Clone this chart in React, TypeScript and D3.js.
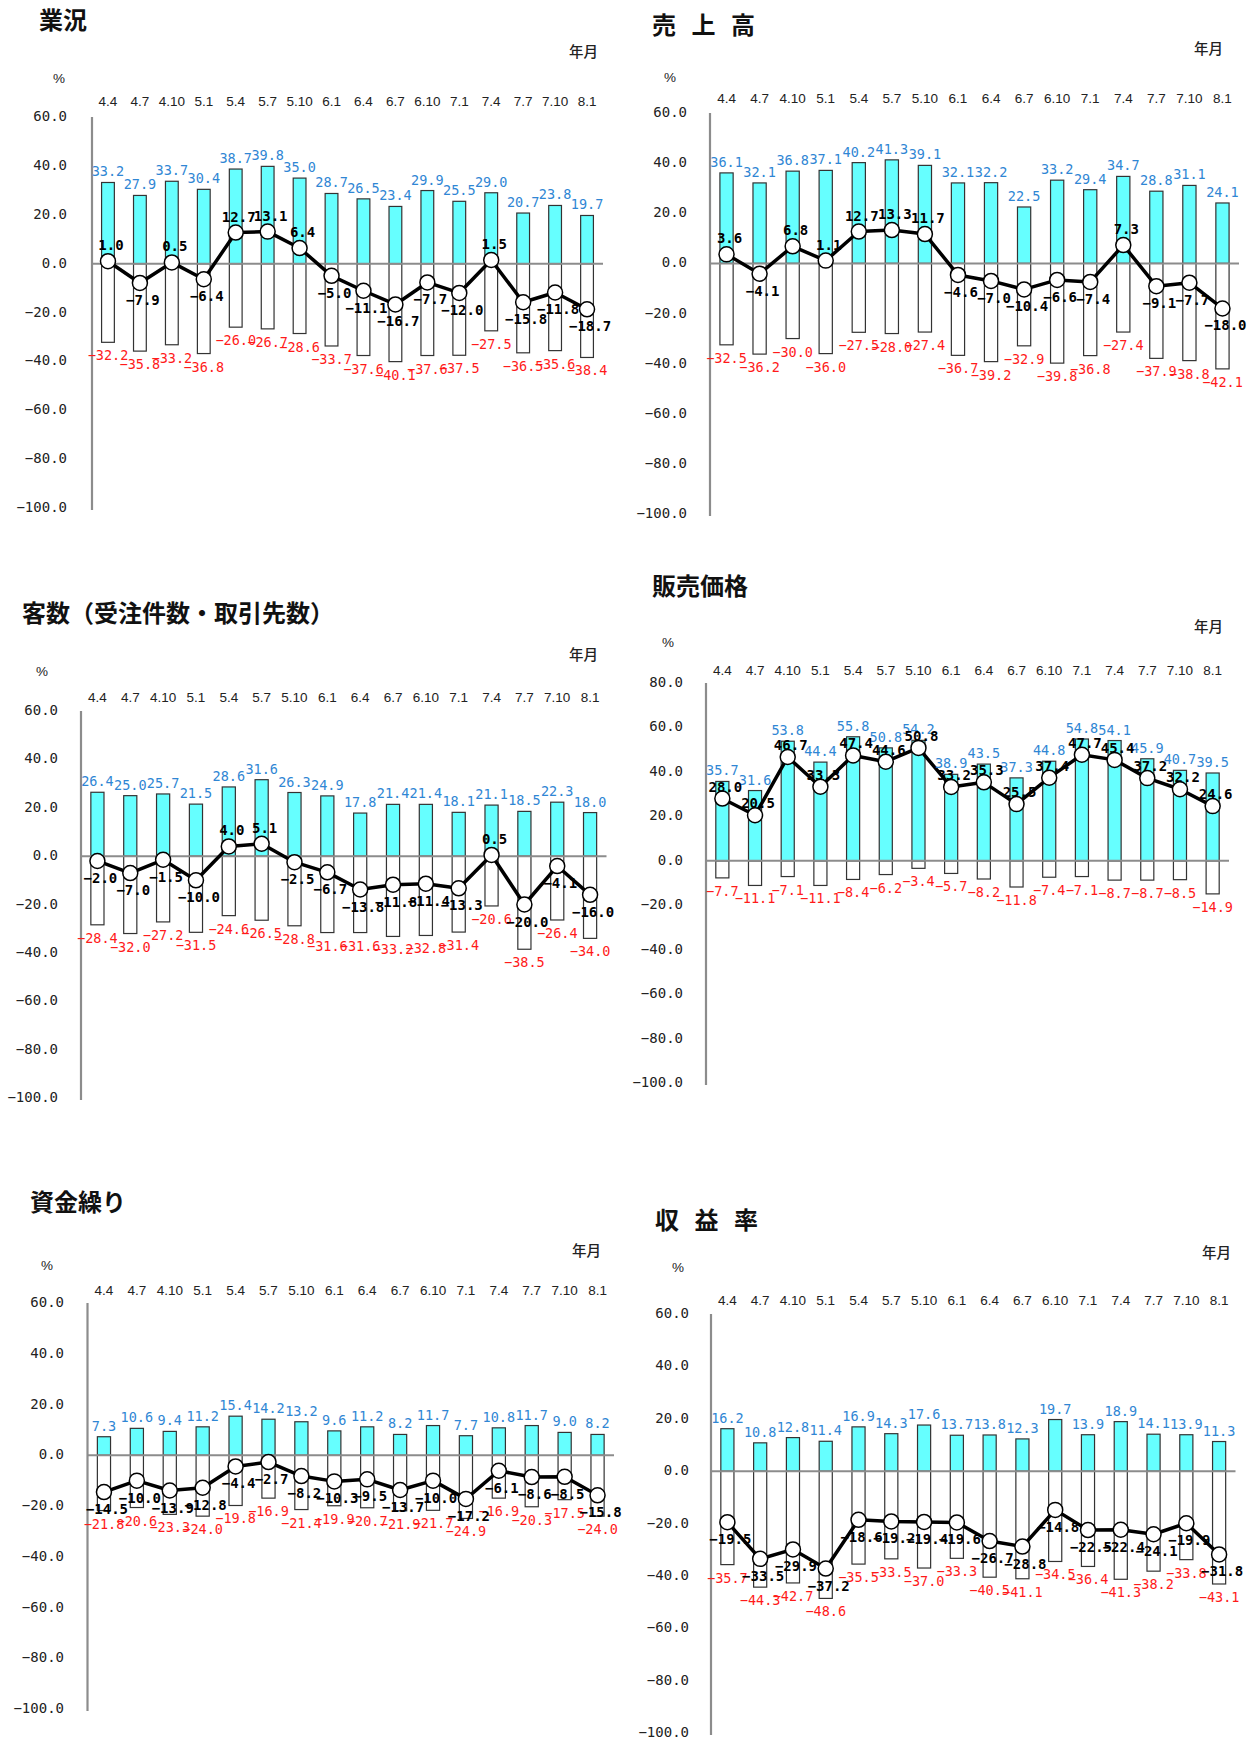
import React from 'react';
import * as d3 from 'd3';

const categories = ['4.4', '4.7', '4.10', '5.1', '5.4', '5.7', '5.10', '6.1', '6.4', '6.7', '6.10', '7.1', '7.4', '7.7', '7.10', '8.1'];

// 業況
const gyokyoUp = [33.2, 27.9, 33.7, 30.4, 38.7, 39.8, 35.0, 28.7, 26.5, 23.4, 29.9, 25.5, 29.0, 20.7, 23.8, 19.7];
const gyokyoDown = [-32.2, -35.8, -33.2, -36.8, -26.0, -26.7, -28.6, -33.7, -37.6, -40.1, -37.6, -37.5, -27.5, -36.5, -35.6, -38.4];
const gyokyoDI = [1.0, -7.9, 0.5, -6.4, 12.7, 13.1, 6.4, -5.0, -11.1, -16.7, -7.7, -12.0, 1.5, -15.8, -11.8, -18.7];

// 売上高
const uriageUp = [36.1, 32.1, 36.8, 37.1, 40.2, 41.3, 39.1, 32.1, 32.2, 22.5, 33.2, 29.4, 34.7, 28.8, 31.1, 24.1];
const uriageDown = [-32.5, -36.2, -30.0, -36.0, -27.5, -28.0, -27.4, -36.7, -39.2, -32.9, -39.8, -36.8, -27.4, -37.9, -38.8, -42.1];
const uriageDI = [3.6, -4.1, 6.8, 1.1, 12.7, 13.3, 11.7, -4.6, -7.0, -10.4, -6.6, -7.4, 7.3, -9.1, -7.7, -18.0];

// 客数
const kyakusuUp = [26.4, 25.0, 25.7, 21.5, 28.6, 31.6, 26.3, 24.9, 17.8, 21.4, 21.4, 18.1, 21.1, 18.5, 22.3, 18.0];
const kyakusuDown = [-28.4, -32.0, -27.2, -31.5, -24.6, -26.5, -28.8, -31.6, -31.6, -33.2, -32.8, -31.4, -20.6, -38.5, -26.4, -34.0];
const kyakusuDI = [-2.0, -7.0, -1.5, -10.0, 4.0, 5.1, -2.5, -6.7, -13.8, -11.8, -11.4, -13.3, 0.5, -20.0, -4.1, -16.0];

// 販売価格
const kakakuUp = [35.7, 31.6, 53.8, 44.4, 55.8, 50.8, 54.2, 38.9, 43.5, 37.3, 44.8, 54.8, 54.1, 45.9, 40.7, 39.5];
const kakakuDown = [-7.7, -11.1, -7.1, -11.1, -8.4, -6.2, -3.4, -5.7, -8.2, -11.8, -7.4, -7.1, -8.7, -8.7, -8.5, -14.9];
const kakakuDI = [28.0, 20.5, 46.7, 33.3, 47.4, 44.6, 50.8, 33.2, 35.3, 25.5, 37.4, 47.7, 45.4, 37.2, 32.2, 24.6];

// 資金繰り
const shikinUp = [7.3, 10.6, 9.4, 11.2, 15.4, 14.2, 13.2, 9.6, 11.2, 8.2, 11.7, 7.7, 10.8, 11.7, 9.0, 8.2];
const shikinDown = [-21.8, -20.6, -23.3, -24.0, -19.8, -16.9, -21.4, -19.9, -20.7, -21.9, -21.7, -24.9, -16.9, -20.3, -17.5, -24.0];
const shikinDI = [-14.5, -10.0, -13.9, -12.8, -4.4, -2.7, -8.2, -10.3, -9.5, -13.7, -10.0, -17.2, -6.1, -8.6, -8.5, -15.8];

// 収益率
const shuekiUp = [16.2, 10.8, 12.8, 11.4, 16.9, 14.3, 17.6, 13.7, 13.8, 12.3, 19.7, 13.9, 18.9, 14.1, 13.9, 11.3];
const shuekiDown = [-35.7, -44.3, -42.7, -48.6, -35.5, -33.5, -37.0, -33.3, -40.5, -41.1, -34.5, -36.4, -41.3, -38.2, -33.8, -43.1];
const shuekiDI = [-19.5, -33.5, -29.9, -37.2, -18.6, -19.2, -19.4, -19.6, -26.7, -28.8, -14.8, -22.5, -22.4, -24.1, -19.9, -31.8];

const MONO = "'DejaVu Sans Mono', 'Liberation Mono', monospace";
const SANS = "'Liberation Sans', Arial, sans-serif";
const CJK = "'Noto Sans CJK JP', 'Noto Sans', sans-serif";

const CYAN = '#66ffff';
const BLUE = '#2f86d4';
const RED = '#ff1a1a';
const GRAY = '#8c8c8c';

type Layout = {
  title: string;
  titleX: number;
  titleY: number;
  titleSpacing: number;
  nenX: number;
  nenY: number;
  pctX: number;
  pctY: number;
  catY: number;
  x0: number;
  x1: number;
  yMin: number;
  yMax: number;
  yTop: number;
  yBot: number;
  tickRight: number;
  diAbove: number;
  diBelow: number;
};

type Series = { up: number[]; down: number[]; di: number[] };

const fmt = d3.format('.1f');

function Panel({ L, S }: { L: Layout; S: Series }) {
  const x = d3.scaleBand<string>().domain(categories).range([L.x0, L.x1]);
  const y = d3.scaleLinear().domain([L.yMin, L.yMax]).range([L.yBot, L.yTop]);
  const ticks = d3.range(L.yMin, L.yMax + 0.001, 20);
  const bw = x.bandwidth() * 0.4;
  const cx = (i: number) => (x(categories[i]) as number) + x.bandwidth() / 2;
  const line = d3
    .line<number>()
    .x((_, i) => cx(i))
    .y((d) => y(d));
  const y0 = y(0);

  return (
    <g>
      <text
        x={L.titleX}
        y={L.titleY}
        fontFamily={CJK}
        fontWeight={700}
        fontSize={24}
        letterSpacing={L.titleSpacing}
        fill="#111"
        style={{ whiteSpace: 'pre' }}
      >
        {L.title}
      </text>
      <text x={L.nenX} y={L.nenY} fontFamily={CJK} fontWeight={500} fontSize={14.5} fill="#222">
        年月
      </text>
      <text x={L.pctX} y={L.pctY} fontFamily={SANS} fontSize={13.5} fill="#222">
        %
      </text>
      {categories.map((c, i) => (
        <text key={'c' + c} x={cx(i)} y={L.catY} textAnchor="middle" fontFamily={SANS} fontSize={13.5} fill="#222">
          {c}
        </text>
      ))}
      {ticks.map((t) => (
        <text
          key={'t' + t}
          x={L.tickRight}
          y={y(t)}
          textAnchor="end"
          dominantBaseline="middle"
          fontFamily={MONO}
          fontSize={14}
          fill="#222"
        >
          {fmt(t)}
        </text>
      ))}
      {/* negative bars */}
      {S.down.map((v, i) => (
        <rect
          key={'d' + i}
          x={cx(i) - bw / 2}
          y={y0}
          width={bw}
          height={y(v) - y0}
          fill="#fff"
          stroke="#333"
          strokeWidth={1.2}
        />
      ))}
      {/* positive bars */}
      {S.up.map((v, i) => (
        <rect
          key={'u' + i}
          x={cx(i) - bw / 2}
          y={y(v)}
          width={bw}
          height={y0 - y(v)}
          fill={CYAN}
          stroke="#333"
          strokeWidth={1.2}
        />
      ))}
      <line x1={L.x0} x2={L.x1} y1={y0} y2={y0} stroke={GRAY} strokeWidth={2} />
      <line x1={L.x0} x2={L.x0} y1={L.yTop} y2={L.yBot + 2} stroke={GRAY} strokeWidth={2.2} />
      <path d={line(S.di) || ''} fill="none" stroke="#000" strokeWidth={3.5} strokeLinejoin="round" />
      {S.di.map((v, i) => (
        <circle key={'p' + i} cx={cx(i)} cy={y(v)} r={7.5} fill="#fff" stroke="#000" strokeWidth={1.5} />
      ))}
      {S.up.map((v, i) => (
        <text key={'lu' + i} x={cx(i)} y={y(v) - 6} textAnchor="middle" fontFamily={MONO} fontSize={13.5} fill={BLUE}>
          {fmt(v)}
        </text>
      ))}
      {S.down.map((v, i) => (
        <text key={'ld' + i} x={cx(i)} y={y(v) + 18} textAnchor="middle" fontFamily={MONO} fontSize={13.5} fill={RED}>
          {fmt(v)}
        </text>
      ))}
      {S.di.map((v, i) => (
        <text
          key={'ldi' + i}
          x={cx(i) + 3}
          y={y(v) + (v >= 0 ? -L.diAbove : L.diBelow)}
          textAnchor="middle"
          fontFamily={MONO}
          fontWeight={700}
          fontSize={14}
          fill="#000"
        >
          {fmt(v)}
        </text>
      ))}
    </g>
  );
}

const layouts: Layout[] = [
  { title: '業況', titleX: 39, titleY: 29, titleSpacing: 0, nenX: 569, nenY: 57, pctX: 53, pctY: 83, catY: 106, x0: 92, x1: 603, yMin: -100, yMax: 60, yTop: 117, yBot: 508, tickRight: 67, diAbove: 11, diBelow: 22 },
  { title: '売 上 高', titleX: 652, titleY: 34, titleSpacing: 5, nenX: 1194, nenY: 54, pctX: 664, pctY: 82, catY: 103, x0: 710, x1: 1239, yMin: -100, yMax: 60, yTop: 113, yBot: 514, tickRight: 687, diAbove: 11, diBelow: 22 },
  { title: '客数（受注件数・取引先数）', titleX: 22, titleY: 622, titleSpacing: 0, nenX: 569, nenY: 660, pctX: 36, pctY: 676, catY: 702, x0: 81, x1: 606.5, yMin: -100, yMax: 60, yTop: 711, yBot: 1098, tickRight: 58, diAbove: 11, diBelow: 22 },
  { title: '販売価格', titleX: 652, titleY: 595, titleSpacing: 0, nenX: 1194, nenY: 632, pctX: 662, pctY: 647, catY: 675, x0: 706, x1: 1229, yMin: -100, yMax: 80, yTop: 683, yBot: 1083, tickRight: 683, diAbove: 7, diBelow: 22 },
  { title: '資金繰り', titleX: 30, titleY: 1211, titleSpacing: 0, nenX: 572, nenY: 1256, pctX: 41, pctY: 1270, catY: 1295, x0: 87.5, x1: 614, yMin: -100, yMax: 60, yTop: 1303, yBot: 1709, tickRight: 64, diAbove: 11, diBelow: 22 },
  { title: '収 益 率', titleX: 655, titleY: 1229, titleSpacing: 5, nenX: 1202, nenY: 1258, pctX: 672, pctY: 1272, catY: 1305, x0: 711, x1: 1235.5, yMin: -100, yMax: 60, yTop: 1314, yBot: 1733, tickRight: 689, diAbove: 11, diBelow: 22 },
];

const seriesList: Series[] = [
  { up: gyokyoUp, down: gyokyoDown, di: gyokyoDI },
  { up: uriageUp, down: uriageDown, di: uriageDI },
  { up: kyakusuUp, down: kyakusuDown, di: kyakusuDI },
  { up: kakakuUp, down: kakakuDown, di: kakakuDI },
  { up: shikinUp, down: shikinDown, di: shikinDI },
  { up: shuekiUp, down: shuekiDown, di: shuekiDI },
];

export default function App() {
  return (
    <svg
      width={1253}
      height={1744}
      viewBox="0 0 1253 1744"
      style={{ position: 'absolute', left: 0, top: 0, background: '#fff' }}
    >
      <rect x={0} y={0} width={1253} height={1744} fill="#fff" />
      {layouts.map((L, k) => (
        <Panel key={k} L={L} S={seriesList[k]} />
      ))}
    </svg>
  );
}
